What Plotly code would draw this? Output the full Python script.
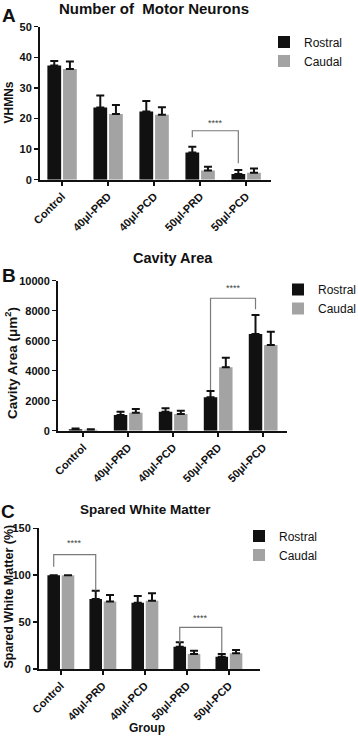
import plotly.graph_objects as go

W, H = 358, 736

groups = ["Control", "40μl-PRD", "40μl-PCD", "50μl-PRD", "50μl-PCD"]
series_names = ["Rostral", "Caudal"]

# Panel A: Number of motor neurons
a_rostral = [37.3, 23.6, 22.3, 8.9, 1.9]
a_rostral_err = [1.5, 3.9, 3.4, 1.9, 1.3]
a_caudal = [36.2, 21.5, 21.2, 3.0, 2.3]
a_caudal_err = [2.4, 2.9, 2.5, 1.2, 1.4]
a_ticks = [0, 10, 20, 30, 40, 50]

# Panel B: Cavity area
b_rostral = [100, 1050, 1270, 2230, 6450]
b_rostral_err = [40, 220, 220, 420, 1260]
b_caudal = [70, 1200, 1110, 4230, 5710]
b_caudal_err = [30, 250, 220, 640, 890]
b_ticks = [0, 2000, 4000, 6000, 8000, 10000]

# Panel C: Spared white matter
c_rostral = [100, 74.6, 70.7, 23.8, 13.0]
c_rostral_err = [0, 8.9, 7.1, 4.6, 3.0]
c_caudal = [100, 72.0, 72.8, 16.0, 16.7]
c_caudal_err = [0, 7.0, 7.9, 3.5, 3.6]
c_ticks = [0, 50, 100, 150]

# significance brackets: (group from, group to, bar height, left end, right end, stars y)
a_sig = [(3, 4, 16.0, 13.9, 5.4, 18.6)]
b_sig = [(3, 4, 8830, 2710, 8090, 9520)]
c_sig = [(0, 1, 122, 109, 83.5, 134), (3, 4, 44.4, 28, 17.4, 54)]

FONT = "Liberation Sans, Arial, sans-serif"
BLACK = "#111111"
GRAY = "#a3a3a3"

panels = [
    dict(r=a_rostral, re=a_rostral_err, c=a_caudal, ce=a_caudal_err, ticks=a_ticks,
         sig=a_sig, xd=(40, 271), yd=(26.7, 179.7), xr=(-0.48, 4.54),
         title="Number of  Motor Neurons", tsize=15, tpos=(154, 8.5), letter="A", lpos=(9, 15.5),
         ytitle="VHMNs", ysize=12, ytpos=(8.5, 103), leg=(264, 27.5)),
    dict(r=b_rostral, re=b_rostral_err, c=b_caudal, ce=b_caudal_err, ticks=b_ticks,
         sig=b_sig, xd=(58, 287), yd=(280.7, 430.7), xr=(-0.56, 4.53),
         title="Cavity Area", tsize=14.5, tpos=(173, 258), letter="B", lpos=(9, 275),
         ytitle="Cavity Area (μm<sup>2</sup>)", ysize=13.5, ytpos=(11, 363), leg=(278, 275)),
    dict(r=c_rostral, re=c_rostral_err, c=c_caudal, ce=c_caudal_err, ticks=c_ticks,
         sig=c_sig, xd=(39, 260), yd=(528.3, 669), xr=(-0.52, 4.74),
         title="Spared White Matter", tsize=13.5, tpos=(145, 509), letter="C", lpos=(8, 511.5),
         ytitle="Spared White Matter (%)", ysize=12.5, ytpos=(8.5, 597), leg=(239, 521.5)),
]

fig = go.Figure()
layout = dict(width=W, height=H, autosize=False,
              margin=dict(l=0, r=0, t=0, b=0, autoexpand=False),
              paper_bgcolor="white", plot_bgcolor="white",
              barmode="group", bargap=0.32, bargroupgap=0.12,
              font=dict(family=FONT, color=BLACK),
              showlegend=True)
shapes = []
annotations = []

ROFF = -0.17  # centre of the rostral bar within its group


def txt(text, x, y, size, color=BLACK, angle=0):
    return dict(text=text, xref="paper", yref="paper", x=x / W, y=1 - y / H,
                xanchor="center", yanchor="middle", showarrow=False, textangle=angle,
                font=dict(size=size, family=FONT, color=color))


for i, p in enumerate(panels):
    n = "" if i == 0 else str(i + 1)
    xa, ya = "x" + n, "y" + n
    legname = "legend" + n
    for name, vals, errs, col in [("Rostral", p["r"], p["re"], BLACK),
                                  ("Caudal", p["c"], p["ce"], GRAY)]:
        fig.add_trace(go.Bar(
            x=groups, y=vals, name=name, xaxis=xa, yaxis=ya, legend=legname,
            marker=dict(color=col, line=dict(width=0)),
            error_y=dict(type="data", array=errs, arrayminus=[0] * len(errs),
                         symmetric=False, color=BLACK, thickness=2, width=4),
        ))
    layout["xaxis" + n] = dict(
        domain=[p["xd"][0] / W, p["xd"][1] / W], anchor=ya, type="category",
        range=list(p["xr"]), showline=True, linecolor=BLACK, linewidth=2,
        ticks="outside", ticklen=4, tickwidth=1.5, tickcolor=BLACK, automargin=False,
        tickangle=-45, tickfont=dict(size=11, family=FONT, color=BLACK, weight="bold"),
        showgrid=False, zeroline=False, fixedrange=True)
    layout["yaxis" + n] = dict(
        domain=[1 - p["yd"][1] / H, 1 - p["yd"][0] / H], anchor=xa,
        range=[0, p["ticks"][-1]], tickvals=p["ticks"], tickformat="d",
        showline=True, linecolor=BLACK, linewidth=2, automargin=False,
        ticks="outside", ticklen=4, tickwidth=1.5, tickcolor=BLACK,
        tickfont=dict(size=11, family=FONT, color=BLACK, weight="bold"),
        showgrid=False, zeroline=False, fixedrange=True)
    layout[legname] = dict(
        x=p["leg"][0] / W, y=1 - p["leg"][1] / H, xanchor="left", yanchor="top",
        xref="container", yref="container",
        bgcolor="rgba(0,0,0,0)", borderwidth=0, tracegroupgap=0,
        font=dict(size=12, family=FONT, color=BLACK))
    annotations.append(txt("<b>%s</b>" % p["title"], p["tpos"][0], p["tpos"][1], p["tsize"]))
    annotations.append(txt("<b>%s</b>" % p["letter"], p["lpos"][0], p["lpos"][1], 19))
    annotations.append(txt("<b>%s</b>" % p["ytitle"], p["ytpos"][0], p["ytpos"][1], p["ysize"], angle=-90))
    for (g0, g1, yh, yl, yr, ys) in p["sig"]:
        x0, x1 = g0 + ROFF, g1 + ROFF
        shapes.append(dict(type="path", xref=xa, yref=ya,
                           path="M %f,%f L %f,%f L %f,%f L %f,%f" % (x0, yl, x0, yh, x1, yh, x1, yr),
                           line=dict(color="#7a7a7a", width=1.2)))
        annotations.append(dict(text="****", xref=xa, yref=ya, x=(x0 + x1) / 2, y=ys,
                                xanchor="center", yanchor="middle",
                                showarrow=False, font=dict(size=9, family=FONT, color="#444444")))

annotations.append(txt("<b>Group</b>", 147, 728, 12))

layout["shapes"] = shapes
layout["annotations"] = annotations
fig.update_layout(**layout)
fig.write_html("out.html", config={"displayModeBar": False, "staticPlot": True},
               post_script="document.body.style.margin='0';")
